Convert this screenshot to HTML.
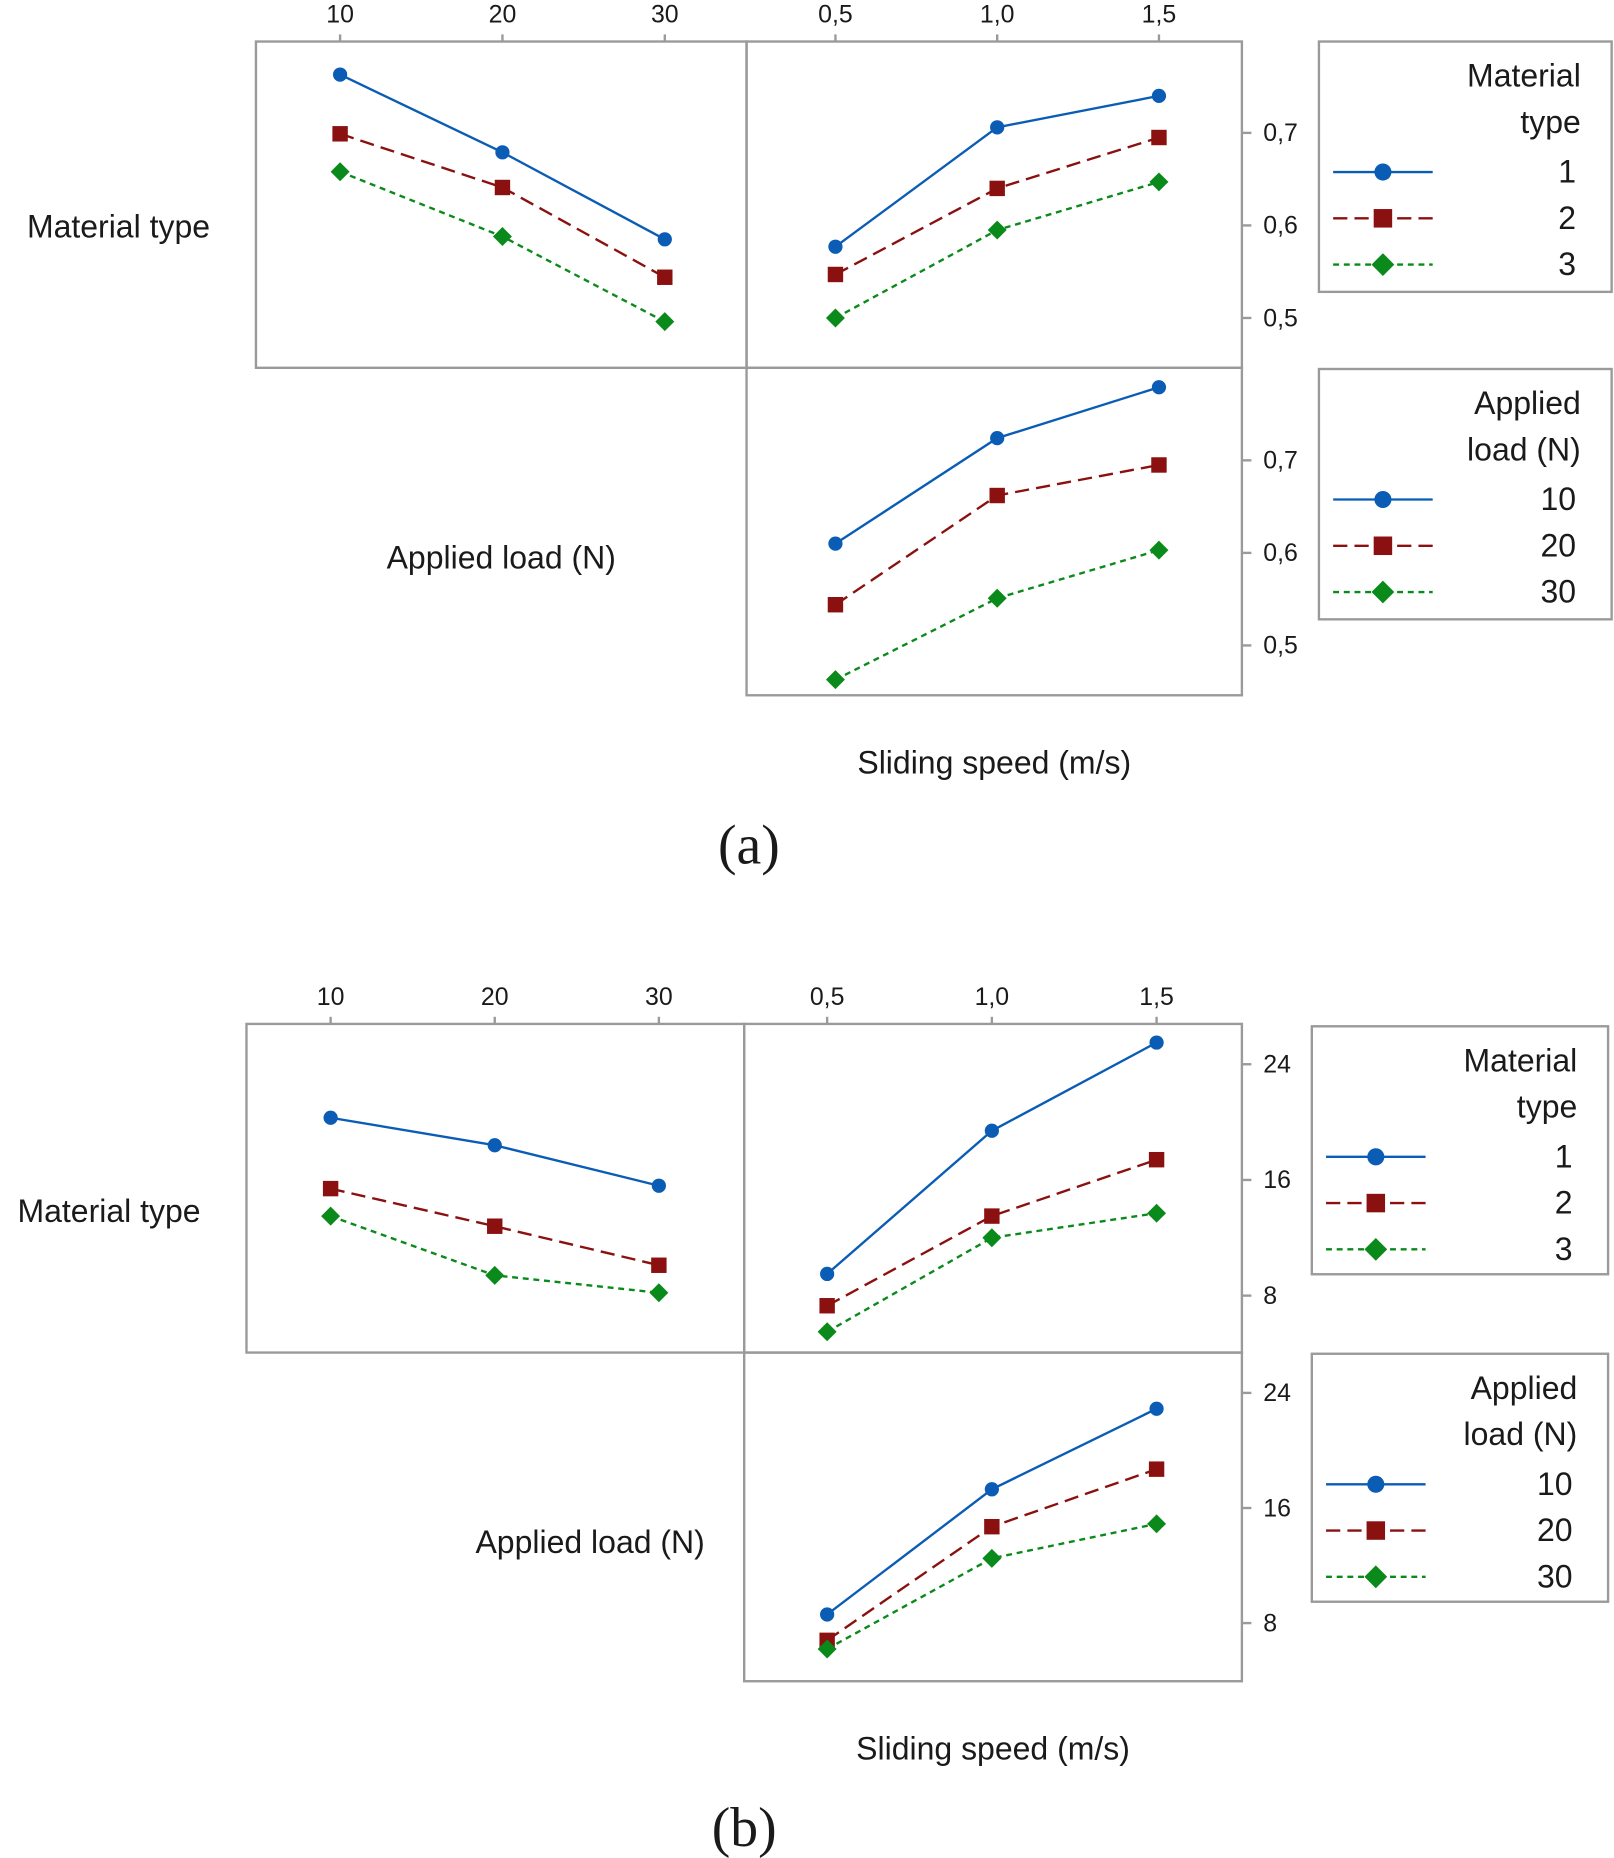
<!DOCTYPE html>
<html><head><meta charset="utf-8"><style>
html,body{margin:0;padding:0;background:#fff;}
svg{display:block;}
text{font-family:"Liberation Sans",sans-serif;}
</style></head><body>
<svg id="chart" width="1614" height="1858" viewBox="0 0 1362 1566" preserveAspectRatio="none" xmlns="http://www.w3.org/2000/svg"></svg>
<script>
// ---- data panel (a) ----
const loadCats = [10, 20, 30];
const speedCats = [0.5, 1.0, 1.5];
const seriesNamesMat = ["1", "2", "3"];
const seriesNamesLoad = ["10", "20", "30"];
const aMatVsLoad1 = [0.763, 0.679, 0.585];
const aMatVsLoad2 = [0.699, 0.641, 0.544];
const aMatVsLoad3 = [0.658, 0.588, 0.496];
const aMatVsSpeed1 = [0.577, 0.706, 0.740];
const aMatVsSpeed2 = [0.547, 0.640, 0.695];
const aMatVsSpeed3 = [0.500, 0.595, 0.647];
const aLoadVsSpeed10 = [0.610, 0.724, 0.779];
const aLoadVsSpeed20 = [0.544, 0.662, 0.695];
const aLoadVsSpeed30 = [0.463, 0.551, 0.603];
const aYTicks = [0.5, 0.6, 0.7];
const aYTickLabels = ["0,5", "0,6", "0,7"];
// ---- data panel (b) ----
const bMatVsLoad1 = [20.3, 18.4, 15.6];
const bMatVsLoad2 = [15.4, 12.8, 10.1];
const bMatVsLoad3 = [13.5, 9.4, 8.2];
const bMatVsSpeed1 = [9.5, 19.4, 25.5];
const bMatVsSpeed2 = [7.3, 13.5, 17.4];
const bMatVsSpeed3 = [5.5, 12.0, 13.7];
const bLoadVsSpeed10 = [8.6, 17.3, 22.9];
const bLoadVsSpeed20 = [6.8, 14.7, 18.7];
const bLoadVsSpeed30 = [6.2, 12.5, 14.9];
const bYTicks = [8, 16, 24];
const bYTickLabels = ["8", "16", "24"];
const loadTickLabels = ["10", "20", "30"];
const speedTickLabels = ["0,5", "1,0", "1,5"];

const NS = "http://www.w3.org/2000/svg";
const svg = document.getElementById("chart");
const COLORS = ["#0a5cb5", "#8b1010", "#0a8a1a"];
const DASH = ["", "12 6", "5 4"];
function mk(tag, attrs, parent) {
  const e = document.createElementNS(NS, tag);
  for (const k in attrs) e.setAttribute(k, attrs[k]);
  (parent || svg).appendChild(e);
  return e;
}
function txt(x, y, s, size, anchor, parent, fam) {
  const t = mk("text", {x: x, y: y, "font-size": size, "text-anchor": anchor || "middle", fill: "#1a1a1a"}, parent);
  if (fam) t.setAttribute("style", "font-family:" + fam);
  t.textContent = s;
  return t;
}
function marker(g, i, x, y, s) {
  s = s || 1;
  let m;
  if (i === 0) m = mk("circle", {cx: x, cy: y, r: 6 * s, fill: COLORS[0]}, g);
  else if (i === 1) m = mk("rect", {x: x - 6.5 * s, y: y - 6.5 * s, width: 13 * s, height: 13 * s, fill: COLORS[1]}, g);
  else m = mk("polygon", {points: `${x},${y - 8 * s} ${x + 8 * s},${y} ${x},${y + 8 * s} ${x - 8 * s},${y}`, fill: COLORS[2]}, g);
  return m;
}
function linX(cats, x0, x1) { return v => x0 + (v - cats[0]) / (cats[cats.length - 1] - cats[0]) * (x1 - x0); }
function linY(v0, y0, v1, y1) { return v => y0 + (v - v0) / (v1 - v0) * (y1 - y0); }

function drawSeries(name, cats, vals, xf, yf, i) {
  const g = mk("g", {});
  
  
  const pts = cats.map((c, k) => [xf(c), yf(vals[k])]);
  const l = mk("polyline", {points: pts.map(p => p.join(",")).join(" "), fill: "none", stroke: COLORS[i], "stroke-width": 2, "stroke-dasharray": DASH[i]}, g);
  
  
  pts.forEach(p => {
    const m = marker(g, i, p[0], p[1], 1.0);
    
    
  });
}
function box(name, x, y, w, h) {
  const r = mk("rect", {x: x, y: y, width: w, height: h, fill: "none", stroke: "#9a9a9a", "stroke-width": 2});
  
  
}
function legend(name, x, y, w, h, title1, title2, labels) {
  const g = mk("g", {});
  
  
  mk("rect", {x: x, y: y, width: w, height: h, fill: "#fff", stroke: "#9a9a9a", "stroke-width": 2}, g);
  txt(x + w - 26, y + 38, title1, 27, "end", g);
  txt(x + w - 26, y + 77, title2, 27, "end", g);
  labels.forEach((lb, i) => {
    const yy = y + 110 + i * 39;
    const e = mk("g", {}, g);
    
    
    mk("line", {x1: x + 12, y1: yy, x2: x + 96, y2: yy, stroke: COLORS[i], "stroke-width": 2, "stroke-dasharray": DASH[i]}, e);
    marker(e, i, x + 54, yy, 1.2);
    txt(x + w - 30, yy + 9, lb, 27, "end", e);
  });
}
function panel(P) {
  const xl = linX(loadCats, P.lx0, P.lx1);
  const xs = linX(speedCats, P.sx0, P.sx1);
  box(P.id + "-load-panel-box", P.L, P.T, P.M - P.L, P.Mid - P.T);
  box(P.id + "-speed-panel-box", P.M, P.T, P.R - P.M, P.Mid - P.T);
  box(P.id + "-load-speed-panel-box", P.M, P.Mid, P.R - P.M, P.B - P.Mid);
  loadCats.forEach((c, k) => {
    mk("line", {x1: xl(c), y1: P.T, x2: xl(c), y2: P.T - 6, stroke: "#9a9a9a", "stroke-width": 2});
    const t = txt(xl(c), P.T - 16, loadTickLabels[k], 21, "middle");
     
  });
  speedCats.forEach((c, k) => {
    mk("line", {x1: xs(c), y1: P.T, x2: xs(c), y2: P.T - 6, stroke: "#9a9a9a", "stroke-width": 2});
    const t = txt(xs(c), P.T - 16, speedTickLabels[k], 21, "middle");
     
  });
  [[P.yTop, P.T], [P.yBot, P.Mid]].forEach(([yf]) => {
    P.yt.forEach((v, k) => {
      const y = yf(v);
      mk("line", {x1: P.R, y1: y, x2: P.R + 8, y2: y, stroke: "#9a9a9a", "stroke-width": 2});
      const t = txt(P.R + 18, y + 7, P.ytl[k], 21, "start");
       
    });
  });
  const d = P.d;
  drawSeries(P.id + "-material-1-vs-load", loadCats, d[0], xl, P.yTop, 0);
  drawSeries(P.id + "-material-2-vs-load", loadCats, d[1], xl, P.yTop, 1);
  drawSeries(P.id + "-material-3-vs-load", loadCats, d[2], xl, P.yTop, 2);
  drawSeries(P.id + "-material-1-vs-speed", speedCats, d[3], xs, P.yTop, 0);
  drawSeries(P.id + "-material-2-vs-speed", speedCats, d[4], xs, P.yTop, 1);
  drawSeries(P.id + "-material-3-vs-speed", speedCats, d[5], xs, P.yTop, 2);
  drawSeries(P.id + "-load-10-vs-speed", speedCats, d[6], xs, P.yBot, 0);
  drawSeries(P.id + "-load-20-vs-speed", speedCats, d[7], xs, P.yBot, 1);
  drawSeries(P.id + "-load-30-vs-speed", speedCats, d[8], xs, P.yBot, 2);
  let t = txt(P.matLabX, P.matLabY, "Material type", 27, "middle");
   
  t = txt(P.loadLabX, P.loadLabY, "Applied load (N)", 27, "middle");
   
  t = txt((P.M + P.R) / 2, P.B + 66, "Sliding speed (m/s)", 27, "middle");
   
  legend(P.id + "-legend-material", P.lgX, P.lg1Y, P.lgW, P.lg1H, "Material", "type", seriesNamesMat);
  legend(P.id + "-legend-load", P.lgX, P.lg2Y, P.lgW, P.lg2H, "Applied", "load (N)", seriesNamesLoad);
  t = txt((P.L + P.R) / 2, P.capY, P.cap, 47, "middle", null, "'Liberation Serif',serif");
   
}
panel({id: "a", L: 216, M: 630, R: 1048, T: 35, Mid: 310, B: 586,
  lx0: 287, lx1: 561, sx0: 705, sx1: 978,
  yTop: linY(0.5, 268, 0.7, 112), yBot: linY(0.5, 544, 0.7, 388),
  yt: aYTicks, ytl: aYTickLabels,
  d: [aMatVsLoad1, aMatVsLoad2, aMatVsLoad3, aMatVsSpeed1, aMatVsSpeed2, aMatVsSpeed3, aLoadVsSpeed10, aLoadVsSpeed20, aLoadVsSpeed30],
  matLabX: 100, matLabY: 200, loadLabX: 423, loadLabY: 479,
  lgX: 1113, lgW: 247, lg1Y: 35, lg1H: 211, lg2Y: 311, lg2H: 211,
  capY: 728, cap: "(a)"});
panel({id: "b", L: 208, M: 628, R: 1048, T: 863, Mid: 1140, B: 1417,
  lx0: 279, lx1: 556, sx0: 698, sx1: 976,
  yTop: linY(8, 1092, 24, 897), yBot: linY(8, 1368, 24, 1174),
  yt: bYTicks, ytl: bYTickLabels,
  d: [bMatVsLoad1, bMatVsLoad2, bMatVsLoad3, bMatVsSpeed1, bMatVsSpeed2, bMatVsSpeed3, bLoadVsSpeed10, bLoadVsSpeed20, bLoadVsSpeed30],
  matLabX: 92, matLabY: 1030, loadLabX: 498, loadLabY: 1309,
  lgX: 1107, lgW: 250, lg1Y: 865, lg1H: 209, lg2Y: 1141, lg2H: 209,
  capY: 1556, cap: "(b)"});
</script>
</body></html>
